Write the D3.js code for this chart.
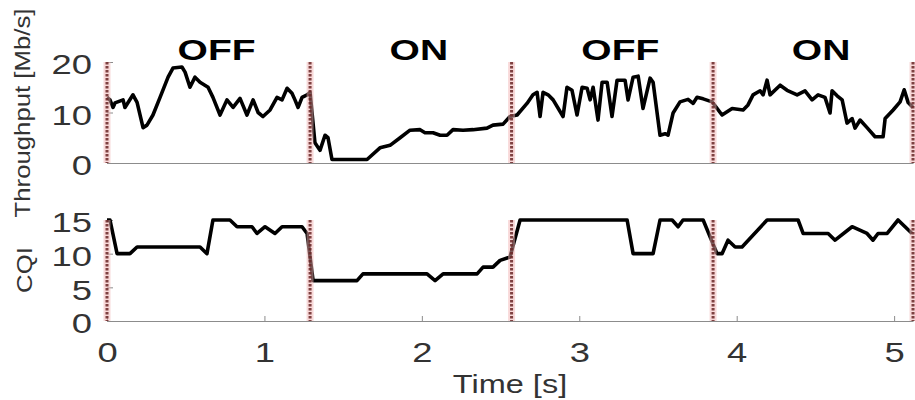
<!DOCTYPE html>
<html>
<head>
<meta charset="utf-8">
<script src="https://cdn.jsdelivr.net/npm/d3@7"></script>
<style>
  body { margin: 0; background: #fff; }
  text { font-family: "Liberation Sans", Arial, sans-serif; }
</style>
</head>
<body>
<svg id="chart"></svg>
<script>
// throughput samples (time in s, Mb/s)
const tpTime = [0, 0.019, 0.038, 0.051, 0.102, 0.114, 0.165, 0.191, 0.229, 0.254, 0.292, 0.337, 0.388, 0.419,
  0.476, 0.496, 0.527, 0.559, 0.591, 0.642, 0.673, 0.718, 0.762, 0.801, 0.845, 0.889, 0.928, 0.960, 0.991,
  1.036, 1.080, 1.112, 1.144, 1.175, 1.194, 1.214, 1.239, 1.271, 1.290, 1.321, 1.353, 1.385, 1.404, 1.429,
  1.652, 1.734, 1.798, 1.862, 1.925, 1.989, 2.020, 2.071, 2.116, 2.160, 2.198, 2.262, 2.325, 2.414, 2.452,
  2.516, 2.560, 2.605, 2.668, 2.706, 2.732, 2.751, 2.770, 2.802, 2.834, 2.897, 2.922, 2.954, 2.986, 3.018,
  3.050, 3.069, 3.088, 3.119, 3.145, 3.177, 3.208, 3.240, 3.291, 3.310, 3.342, 3.374, 3.405, 3.450, 3.469,
  3.513, 3.545, 3.564, 3.596, 3.640, 3.691, 3.723, 3.748, 3.787, 3.844, 3.907, 3.971, 4.041, 4.072, 4.104,
  4.149, 4.168, 4.193, 4.212, 4.276, 4.320, 4.384, 4.434, 4.479, 4.517, 4.561, 4.593, 4.606, 4.638, 4.670,
  4.701, 4.733, 4.752, 4.784, 4.828, 4.879, 4.930, 4.943, 4.994, 5.038, 5.064, 5.089, 5.12];
const throughput = [13, 12.5, 11, 11.9, 12.5, 11, 13.5, 12, 7, 7.5, 9.5, 13, 17, 18.8,
  19, 18, 15, 17, 16, 15, 13, 9.5, 12.5, 11, 12.8, 9.5, 12.5, 10, 9.2,
  10.5, 13, 12.5, 14.8, 13.8, 12.5, 11, 13, 13.5, 14, 4, 2.5, 5.5, 5, 0.7,
  0.7, 3, 3.5, 5, 6.5, 6.6, 6, 6, 5.5, 5.5, 6.6, 6.5, 6.6, 6.9, 7.5,
  7.7, 9.2, 9.5, 11.8, 13.5, 14, 9.2, 14, 13.5, 12.5, 9.2, 15, 14.4, 9.5, 15,
  14.8, 12.5, 15, 8.5, 16, 16, 9.2, 16.4, 16.4, 12.5, 17, 17.2, 10.8, 16.8, 16,
  5.5, 5.8, 5.5, 9.9, 12.1, 12.6, 11.8, 13, 12.7, 12.1, 9.5, 10.8, 10.5, 11.5, 13.5,
  14.3, 13.5, 16.4, 13.5, 15.4, 14.4, 13.5, 14.3, 12.5, 13.5, 13, 9.9, 14.3, 13.3, 12.5,
  7.9, 8.8, 6.9, 8.5, 7, 5.2, 5.2, 8.8, 10.5, 12.1, 14.5, 12, 11];

// CQI samples
const cqiTime = [0, 0.019, 0.064, 0.146, 0.191, 0.591, 0.635, 0.673, 0.781, 0.826, 0.921, 0.953, 1.004, 1.067,
  1.112, 1.239, 1.271, 1.309, 1.588, 1.626, 2.033, 2.084, 2.135, 2.351, 2.389, 2.452, 2.497, 2.560, 2.624,
  3.304, 3.342, 3.469, 3.513, 3.590, 3.628, 3.659, 3.787, 3.875, 3.907, 3.945, 3.990, 4.034, 4.193, 4.390,
  4.422, 4.581, 4.625, 4.733, 4.828, 4.866, 4.898, 4.956, 5.025, 5.114];
const cqi = [15, 15, 10, 10, 11, 11, 10, 15, 15, 14, 14, 13, 14, 13,
  14, 14, 13, 6, 6, 7, 7, 6, 7, 7, 8, 8, 9, 9.5, 15,
  15, 10, 10, 15, 15, 14, 15, 15, 10, 10, 12, 11, 11, 15, 15,
  13, 13, 12, 14, 13, 12, 13, 13, 15, 13];

const phaseBounds = [0, 1.29, 2.57, 3.85, 5.12];
const phaseLabels = ['OFF', 'ON', 'OFF', 'ON'];
const xTicks = [0, 1, 2, 3, 4, 5];
const tpTicks = [0, 10, 20];
const cqiTicks = [0, 5, 10, 15];

const width = 915, height = 400;
const stretch = 1.3;
const txtColor = '#333';
const axisColor = '#8c8c8c';

const svg = d3.select('#chart')
  .attr('width', width)
  .attr('height', height);

const x = d3.scaleLinear().domain([0, 5.12]).range([107, 913]);
const yTop = d3.scaleLinear().domain([0, 20]).range([163, 62]);
const yBot = d3.scaleLinear().domain([0, 15]).range([321, 220]);

function yAxis(scale, ticks) {
  const g = svg.append('g')
    .attr('transform', `translate(${x(0)},0)`)
    .call(d3.axisLeft(scale).tickValues(ticks).tickFormat(d3.format('d')).tickSize(-6).tickPadding(0));
  g.select('.domain').remove();
  g.selectAll('.tick line').attr('stroke', axisColor);
  g.selectAll('.tick text')
    .attr('fill', txtColor)
    .attr('font-size', 28)
    .attr('x', -15 / stretch)
    .attr('dy', '0.32em')
    .attr('y', 3)
    .attr('transform', `scale(${stretch},1)`);
}

function xAxis(scale, y0, labels) {
  const g = svg.append('g')
    .attr('transform', `translate(0,${y0})`)
    .call(d3.axisBottom(scale).tickValues(xTicks).tickFormat(d3.format('d')).tickSize(-5).tickSizeOuter(0));
  g.select('.domain').attr('stroke', axisColor);
  g.selectAll('.tick line').attr('stroke', axisColor);
  if (labels) {
    g.selectAll('.tick text')
      .attr('fill', txtColor)
      .attr('font-size', 28)
      .attr('y', 41)
      .attr('dy', 0)
      .attr('transform', `scale(${stretch},1)`);
  } else {
    g.selectAll('.tick').remove();
  }
}

xAxis(x, yTop(0), false);
xAxis(x, yBot(0), true);
yAxis(yTop, tpTicks);
yAxis(yBot, cqiTicks);

// data lines
const tpLine = d3.line().x((d, i) => x(tpTime[i])).y(d => yTop(d));
const cqiLine = d3.line().x((d, i) => x(cqiTime[i])).y(d => yBot(d));

svg.append('path')
  .datum(throughput)
  .attr('d', tpLine)
  .attr('fill', 'none')
  .attr('stroke', '#000')
  .attr('stroke-width', 3.6)
  .attr('stroke-linejoin', 'round');

svg.append('path')
  .datum(cqi)
  .attr('d', cqiLine)
  .attr('fill', 'none')
  .attr('stroke', '#000')
  .attr('stroke-width', 3.6)
  .attr('stroke-linejoin', 'round');

// phase dividers
[[yTop, 20], [yBot, 15]].forEach(([ys, top]) => {
  const g = svg.append('g');
  g.selectAll('.band')
    .data(phaseBounds)
    .enter()
    .append('line')
    .attr('x1', d => x(d)).attr('x2', d => x(d))
    .attr('y1', ys(top)).attr('y2', ys(0))
    .attr('stroke', '#f2b3b3')
    .attr('stroke-opacity', 0.5)
    .attr('stroke-width', 7);
  g.selectAll('.dash')
    .data(phaseBounds)
    .enter()
    .append('line')
    .attr('x1', d => x(d)).attr('x2', d => x(d))
    .attr('y1', ys(top)).attr('y2', ys(0))
    .attr('stroke', '#6a2626')
    .attr('stroke-opacity', 0.85)
    .attr('stroke-width', 3)
    .attr('stroke-dasharray', '2.5,1.5');
});

// phase labels
svg.selectAll('.phase')
  .data(phaseLabels)
  .enter()
  .append('text')
  .attr('transform', (d, i) => `translate(${x((phaseBounds[i] + phaseBounds[i + 1]) / 2) + 8},60) scale(${stretch},1)`)
  .attr('text-anchor', 'middle')
  .attr('font-size', 30)
  .attr('font-weight', 'bold')
  .attr('fill', '#000')
  .text(d => d);

// axis titles
svg.append('text')
  .attr('transform', `translate(510,393) scale(${stretch},1)`)
  .attr('text-anchor', 'middle')
  .attr('font-size', 25)
  .attr('fill', txtColor)
  .text('Time [s]');

svg.append('text')
  .attr('transform', `translate(30,113) rotate(-90) scale(1.12,1)`)
  .attr('text-anchor', 'middle')
  .attr('font-size', 23)
  .attr('fill', txtColor)
  .text('Throughput [Mb/s]');

svg.append('text')
  .attr('transform', `translate(32,270) rotate(-90) scale(1.12,1)`)
  .attr('text-anchor', 'middle')
  .attr('font-size', 23)
  .attr('fill', txtColor)
  .text('CQI');
</script>
</body>
</html>
